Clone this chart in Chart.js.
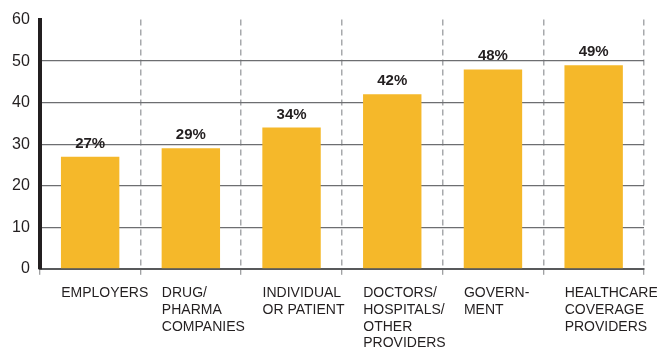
<!DOCTYPE html>
<html>
<head>
<meta charset="utf-8">
<script src="https://cdn.jsdelivr.net/npm/chart.js@4/dist/chart.umd.min.js"></script>
<style>
  html, body { margin: 0; padding: 0; background: #fff; }
  #wrap { width: 657px; height: 352px; }
</style>
</head>
<body>
<div id="wrap"><canvas id="barChart"></canvas></div>
<script>
var categories = [
  ["EMPLOYERS"],
  ["DRUG/", "PHARMA", "COMPANIES"],
  ["INDIVIDUAL", "OR PATIENT"],
  ["DOCTORS/", "HOSPITALS/", "OTHER", "PROVIDERS"],
  ["GOVERN-", "MENT"],
  ["HEALTHCARE", "COVERAGE", "PROVIDERS"]
];
var percents = [27, 29, 34, 42, 48, 49];
var yTicks = [0, 10, 20, 30, 40, 50, 60];

var textColor = "#231f20";
var barColor = "#f5b82a";

// percent labels above each bar
var barValueLabels = {
  id: "barValueLabels",
  afterDatasetsDraw: function (chart) {
    var ctx = chart.ctx;
    var meta = chart.getDatasetMeta(0);
    ctx.save();
    ctx.font = "bold 15px 'Liberation Sans', Arial, sans-serif";
    ctx.fillStyle = textColor;
    ctx.textAlign = "center";
    ctx.textBaseline = "alphabetic";
    meta.data.forEach(function (bar, i) {
      ctx.fillText(percents[i] + "%", bar.x, bar.y - 9);
    });
    ctx.restore();
  }
};

var ctx = document.getElementById("barChart").getContext("2d");

var myBar = new Chart(ctx, {
  type: "bar",
  data: {
    labels: categories,
    datasets: [
      {
        data: percents,
        backgroundColor: barColor,
        borderWidth: 0,
        barPercentage: 0.58,
        categoryPercentage: 1
      }
    ]
  },
  options: {
    responsive: true,
    maintainAspectRatio: false,
    animation: false,
    layout: { padding: { top: -6, right: 13, left: 2, bottom: -10 } },
    plugins: {
      legend: { display: false },
      tooltip: { enabled: false }
    },
    scales: {
      x: {
        // labels hang past the last bar; don't let that shrink the plot
        afterFit: function (axis) {
          axis.paddingLeft = 0;
          axis.paddingRight = 0;
        },
        grid: {
          color: "#a7a9ac",
          lineWidth: 1.5,
          tickLength: 6,
          tickColor: "#808285",
          tickWidth: 1
        },
        border: { color: "#58595b", width: 2, dash: [6, 4] },
        ticks: {
          align: "start",
          labelOffset: -29,
          padding: 10,
          maxRotation: 0,
          autoSkip: false,
          color: textColor,
          font: { family: "'Liberation Sans', Arial, sans-serif", size: 14, lineHeight: 1.2 }
        }
      },
      y: {
        min: 0,
        max: 60,
        afterBuildTicks: function (axis) {
          axis.ticks = yTicks.map(function (v) { return { value: v }; });
        },
        grid: {
          drawTicks: false,
          lineWidth: 1.3,
          color: function (c) {
            return c.tick && c.tick.value === 60 ? "rgba(0,0,0,0)" : "#6d6e71";
          }
        },
        border: { color: "#231f20", width: 4 },
        ticks: {
          padding: 10,
          color: textColor,
          font: { family: "'Liberation Sans', Arial, sans-serif", size: 16 }
        }
      }
    }
  },
  plugins: [barValueLabels]
});
</script>
</body>
</html>
